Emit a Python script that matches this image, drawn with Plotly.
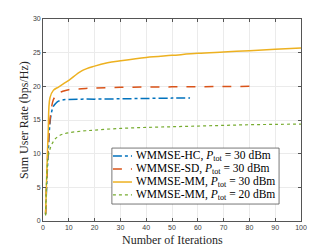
import plotly.graph_objects as go

hc_x = [1, 2, 3, 4, 5, 6, 8, 10, 15, 20, 30, 40, 50, 57]
hc_y = [1.0, 10, 15.5, 17, 17.5, 17.8, 18.0, 18.05, 18.1, 18.1, 18.15, 18.2, 18.25, 18.25]

sd_x = [1, 2, 3, 4, 5, 6, 8, 10, 15, 20, 30, 40, 50, 60, 70, 80]
sd_y = [1.0, 11, 16, 18, 18.6, 19, 19.3, 19.5, 19.65, 19.75, 19.85, 19.9, 19.92, 19.95, 19.97, 20.0]

mm30_x = [1, 2, 2.7, 4, 6, 8, 10, 15, 20, 25, 30, 40, 50, 60, 70, 80, 90, 100]
mm30_y = [1.0, 13, 18.3, 19.4, 19.9, 20.4, 20.9, 22.3, 23.0, 23.5, 23.8, 24.3, 24.6, 24.9, 25.1, 25.3, 25.5, 25.7]

mm20_x = [1, 1.5, 2, 3, 4, 5, 7, 10, 15, 20, 30, 40, 50, 60, 70, 80, 90, 100]
mm20_y = [0.8, 7, 9.5, 11, 11.8, 12.3, 12.8, 13.1, 13.35, 13.5, 13.75, 13.9, 14.0, 14.1, 14.2, 14.3, 14.35, 14.4]

names = [
    "WMMSE-HC, <i>P</i><sub>tot</sub> = 30 dBm",
    "WMMSE-SD, <i>P</i><sub>tot</sub> = 30 dBm",
    "WMMSE-MM, <i>P</i><sub>tot</sub> = 30 dBm",
    "WMMSE-MM, <i>P</i><sub>tot</sub> = 20 dBm",
]
colors = ["#0072BD", "#D95319", "#EDB120", "#77AC30"]
dashes = ["dashdot", "dash", "solid", "dot"]
widths = [1.5, 1.5, 1.5, 1.2]

x_ticks = [0, 10, 20, 30, 40, 50, 60, 70, 80, 90, 100]
y_ticks = [0, 5, 10, 15, 20, 25, 30]

x_title = "Number of Iterations"
y_title = "Sum User Rate (bps/Hz)"

series = [(hc_x, hc_y), (sd_x, sd_y), (mm30_x, mm30_y), (mm20_x, mm20_y)]

serif = "Liberation Serif, Times New Roman"

fig = go.Figure()
for (xs, ys), nm, c, d, w in zip(series, names, colors, dashes, widths):
    fig.add_trace(go.Scatter(x=xs, y=ys, mode="lines", name=nm, showlegend=False,
                             line=dict(color=c, width=w, dash=d, shape="spline")))

# Hand-drawn legend box (paper coordinates of the plot area)
leg_x0, leg_x1, leg_y0, leg_y1 = 0.267, 0.915, 0.084, 0.361
row_y = [0.322, 0.257, 0.193, 0.129]
fig.add_shape(type="rect", xref="paper", yref="paper", x0=leg_x0, x1=leg_x1, y0=leg_y0, y1=leg_y1,
              fillcolor="white", line=dict(color="#555555", width=0.8), layer="above")
for nm, c, d, w, ry in zip(names, colors, dashes, widths, row_y):
    fig.add_shape(type="line", xref="paper", yref="paper", x0=0.271, x1=0.345, y0=ry, y1=ry,
                  line=dict(color=c, width=w, dash=d), layer="above")
    fig.add_annotation(xref="paper", yref="paper", x=0.352, y=ry, xanchor="left", yanchor="middle",
                       text=nm, showarrow=False,
                       font=dict(family=serif, size=11.5, color="#000000"))

# Axis titles
fig.add_annotation(xref="paper", yref="paper", x=0.5, y=-0.094, xanchor="center", yanchor="middle",
                   text=x_title, showarrow=False, font=dict(family=serif, size=12, color="#262626"))
fig.add_annotation(xref="paper", yref="paper", x=-0.074, y=0.5, xanchor="center", yanchor="middle",
                   text=y_title, textangle=-90, showarrow=False,
                   font=dict(family=serif, size=12, color="#262626"))

axis_common = dict(
    showline=True, mirror="ticks", linecolor="#555555", linewidth=0.8,
    ticks="inside", ticklen=3, tickcolor="#555555", tickwidth=0.8,
    showgrid=True, gridcolor="#ebebeb", gridwidth=0.8, zeroline=False,
    tickfont=dict(family="Liberation Sans, Arial", size=7, color="#404040"),
    automargin=False,
)

fig.update_layout(
    width=332, height=249,
    margin=dict(l=43, r=31, t=19, b=28),
    paper_bgcolor="white", plot_bgcolor="white",
    xaxis=dict(range=[0, 100], tickvals=x_ticks, **axis_common),
    yaxis=dict(range=[0, 30], tickvals=y_ticks, **axis_common),
    showlegend=False,
)

fig.write_html("out.html", config={"displayModeBar": False},
               post_script="document.body.style.margin='0';")
